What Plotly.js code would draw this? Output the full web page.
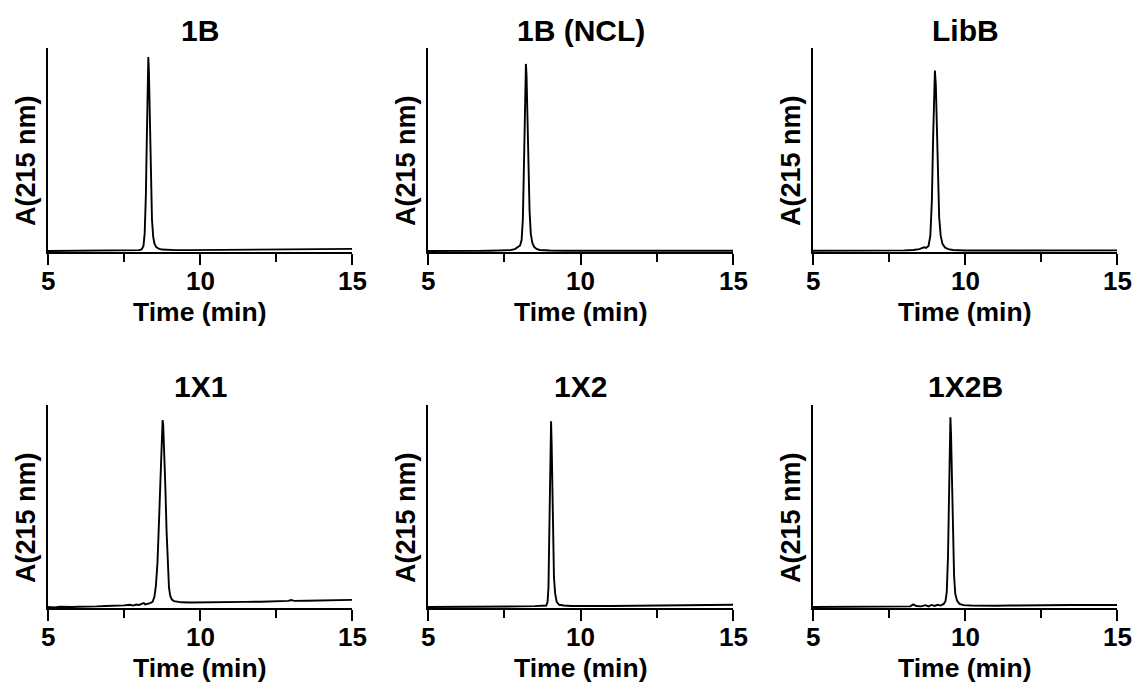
<!DOCTYPE html>
<html>
<head>
<meta charset="utf-8">
<script src="https://cdn.plot.ly/plotly-3.0.1.min.js"></script>
<style>
  html, body { margin: 0; padding: 0; background: #fff; }
  #chart { width: 1136px; height: 686px; }
</style>
</head>
<body>
<div id="chart"></div>
<script>
// HPLC traces, absorbance at 215 nm (arbitrary units, 0-100 scale) vs retention time (min)
const panelNames = ["1B", "1B (NCL)", "LibB", "1X1", "1X2", "1X2B"];

const t_1B = [5.0, 5.4, 5.8, 6.2, 6.6, 7.0, 7.4, 7.8, 8.0, 8.08, 8.14, 8.18, 8.22, 8.25, 8.28, 8.30, 8.32, 8.35, 8.38, 8.42, 8.46, 8.5, 8.56, 8.64, 8.75, 8.9, 9.2, 9.6, 10.0, 10.5, 11.0, 11.5, 12.0, 12.5, 13.0, 13.5, 14.0, 14.5, 15.0];
const a_1B = [0.5, 0.55, 0.5, 0.6, 0.6, 0.65, 0.7, 0.8, 0.9, 1.3, 3.0, 9, 28, 55, 85, 95.6, 88, 62, 36, 16, 7.5, 4.2, 2.4, 1.6, 1.2, 1.0, 0.9, 0.9, 0.95, 1.0, 1.05, 1.1, 1.2, 1.25, 1.3, 1.4, 1.45, 1.5, 1.55];

const t_1BNCL = [5.0, 5.4, 5.8, 6.2, 6.6, 7.0, 7.4, 7.7, 7.85, 7.92, 7.97, 8.02, 8.07, 8.11, 8.14, 8.17, 8.19, 8.21, 8.23, 8.26, 8.29, 8.33, 8.37, 8.42, 8.48, 8.56, 8.66, 8.8, 9.0, 9.5, 10.0, 11.0, 12.0, 13.0, 14.0, 15.0];
const a_1BNCL = [0.5, 0.6, 0.5, 0.6, 0.55, 0.6, 0.7, 0.9, 1.4, 2.3, 2.5, 3.2, 6, 16, 38, 68, 86, 92.2, 87, 66, 42, 20, 9, 4.5, 2.5, 1.5, 1.0, 0.8, 0.7, 0.6, 0.6, 0.6, 0.6, 0.7, 0.7, 0.6];

const t_LibB = [5.0, 5.5, 6.0, 6.5, 7.0, 7.5, 8.0, 8.3, 8.5, 8.6, 8.66, 8.72, 8.8, 8.86, 8.91, 8.95, 8.98, 9.01, 9.04, 9.07, 9.11, 9.15, 9.2, 9.26, 9.34, 9.45, 9.6, 9.8, 10.0, 10.5, 11.0, 12.0, 13.0, 14.0, 15.0];
const a_LibB = [0.6, 0.6, 0.6, 0.6, 0.65, 0.7, 0.8, 1.0, 1.4, 2.0, 2.3, 2.0, 3.0, 8, 25, 55, 80, 88.9, 82, 62, 36, 17, 8, 4, 2.2, 1.4, 1.0, 0.8, 0.7, 0.7, 0.7, 0.8, 0.8, 0.8, 0.8];

const t_1X1 = [5.0, 5.2, 5.4, 5.6, 5.8, 6.0, 6.3, 6.6, 6.9, 7.2, 7.5, 7.7, 7.8, 7.9, 8.0, 8.1, 8.15, 8.2, 8.28, 8.36, 8.44, 8.5, 8.55, 8.6, 8.64, 8.68, 8.72, 8.75, 8.77, 8.79, 8.82, 8.86, 8.9, 8.94, 8.98, 9.02, 9.07, 9.14, 9.25, 9.4, 9.7, 10.0, 10.5, 11.0, 11.5, 12.0, 12.5, 12.9, 13.0, 13.1, 13.5, 14.0, 14.5, 15.0];
const a_1X1 = [0.5, 0.3, 0.6, 0.4, 0.5, 0.6, 0.6, 0.8, 1.0, 1.0, 1.3, 1.6, 1.2, 1.7, 1.5, 2.2, 2.4, 1.8, 2.0, 2.4, 3.0, 5.5, 11, 22, 38, 58, 78, 88, 92.6, 90, 80, 60, 38, 20, 10, 6, 4.2, 3.4, 3.0, 2.8, 2.7, 2.7, 2.8, 2.9, 3.0, 3.1, 3.3, 3.5, 3.9, 3.5, 3.6, 3.8, 3.9, 4.0];

const t_1X2 = [5.0, 5.5, 6.0, 6.5, 7.0, 7.5, 8.0, 8.5, 8.8, 8.88, 8.92, 8.95, 8.97, 8.99, 9.01, 9.035, 9.055, 9.075, 9.1, 9.13, 9.17, 9.22, 9.3, 9.45, 9.7, 10.0, 10.5, 11.0, 11.5, 12.0, 13.0, 14.0, 15.0];
const a_1X2 = [0.5, 0.5, 0.55, 0.6, 0.6, 0.7, 0.8, 0.9, 1.0, 1.2, 3, 10, 30, 52, 80, 92, 80, 55, 33, 15, 7, 3, 1.6, 1.2, 1.0, 0.9, 1.0, 1.0, 1.1, 1.3, 1.5, 1.6, 1.6];

const t_1X2B = [5.0, 5.5, 6.0, 6.5, 7.0, 7.3, 7.5, 7.8, 8.0, 8.2, 8.3, 8.4, 8.55, 8.7, 8.8, 8.9, 9.0, 9.1, 9.2, 9.3, 9.36, 9.4, 9.44, 9.47, 9.5, 9.52, 9.54, 9.57, 9.6, 9.64, 9.68, 9.74, 9.82, 9.95, 10.2, 10.5, 11.0, 11.5, 12.0, 12.5, 13.0, 13.2, 13.5, 14.0, 14.5, 15.0];
const a_1X2B = [0.5, 0.5, 0.5, 0.6, 0.6, 0.7, 0.5, 0.6, 0.6, 0.8, 1.8, 1.0, 0.8, 1.4, 0.8, 1.5, 1.0, 1.6, 1.2, 2.0, 3.5, 8, 25, 52, 82, 94, 86, 60, 35, 16, 7, 3.5, 2.0, 1.4, 1.2, 1.1, 1.1, 1.2, 1.3, 1.4, 1.5, 1.8, 1.5, 1.5, 1.5, 1.5];

const xTickVals = [5, 10, 15];
const xTickText = ["5", "10", "15"];
const xLabel = "Time (min)";
const yLabel = "A(215 nm)";

const series = [
  [t_1B, a_1B], [t_1BNCL, a_1BNCL], [t_LibB, a_LibB],
  [t_1X1, a_1X1], [t_1X2, a_1X2], [t_1X2B, a_1X2B]
];

// page geometry (pixels)
const W = 1136, H = 686;
const fx = p => p / W;
const fy = p => (H - p) / H;
const cols = [[48, 352], [428, 733], [813, 1117]];
const rows = [[48, 252], [405, 608]];

const FONT = "Liberation Sans, Arial, sans-serif";
const boldFont = (size) => ({ family: FONT, size: size, color: "#000", weight: "bold" });

const traces = [];
const layout = {
  width: W, height: H,
  margin: { l: 0, r: 0, t: 0, b: 0 },
  paper_bgcolor: "#fff", plot_bgcolor: "#fff",
  showlegend: false,
  annotations: []
};

series.forEach((s, i) => {
  const r = Math.floor(i / 3), c = i % 3;
  const n = i + 1;
  const sfx = n === 1 ? "" : String(n);
  traces.push({
    type: "scatter", mode: "lines",
    x: s[0], y: s[1],
    xaxis: "x" + sfx, yaxis: "y" + sfx,
    line: { color: "#000", width: 1.9 },
    hoverinfo: "skip"
  });
  layout["xaxis" + sfx] = {
    domain: [fx(cols[c][0]), fx(cols[c][1])],
    anchor: "y" + sfx,
    range: [5, 15],
    showgrid: false, zeroline: false,
    showline: true, linecolor: "#000", linewidth: 2,
    ticks: "outside", ticklen: 11, tickwidth: 2, tickcolor: "#000",
    tickvals: xTickVals, showticklabels: false,
    minor: { ticks: "outside", ticklen: 8, tickwidth: 2, tickcolor: "#000", tick0: 5, dtick: 2.5, showgrid: false }
  };
  layout["yaxis" + sfx] = {
    domain: [fy(rows[r][1]), fy(rows[r][0])],
    anchor: "x" + sfx,
    range: [0, 100],
    showgrid: false, zeroline: false,
    showline: true, linecolor: "#000", linewidth: 2,
    ticks: "", showticklabels: false
  };
  // tick labels placed on the data scale of each x axis
  xTickVals.forEach((v, k) => {
    layout.annotations.push({
      xref: "x" + sfx, yref: "paper", x: v, y: fy(rows[r][1] + 29),
      xanchor: "center", yanchor: "middle", showarrow: false,
      text: "<b>" + xTickText[k] + "</b>", font: boldFont(26)
    });
  });
  const cx = (cols[c][0] + cols[c][1]) / 2;
  // panel title
  layout.annotations.push({
    xref: "paper", yref: "paper", x: fx(cx), y: fy(rows[r][0] - 18),
    xanchor: "center", yanchor: "middle", showarrow: false,
    text: "<b>" + panelNames[i] + "</b>", font: boldFont(30)
  });
  // x axis title
  layout.annotations.push({
    xref: "paper", yref: "paper", x: fx(cx), y: fy(rows[r][1] + 60),
    xanchor: "center", yanchor: "middle", showarrow: false,
    text: "<b>" + xLabel + "</b>", font: boldFont(26.5)
  });
  // y axis title
  layout.annotations.push({
    xref: "paper", yref: "paper", x: fx(cols[c][0] - 22), y: fy(rows[r][0] + 113),
    xanchor: "center", yanchor: "middle", showarrow: false, textangle: -90,
    text: "<b>" + yLabel + "</b>", font: boldFont(27)
  });
});

Plotly.newPlot("chart", traces, layout, { staticPlot: true, displayModeBar: false });
</script>
</body>
</html>
